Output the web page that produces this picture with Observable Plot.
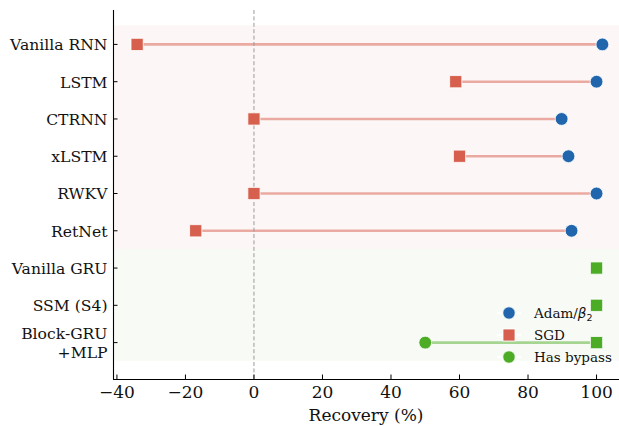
<!DOCTYPE html>
<html>
<head>
<meta charset="utf-8">
<script src="https://cdn.jsdelivr.net/npm/d3@7"></script>
<script src="https://cdn.jsdelivr.net/npm/@observablehq/plot@0.6"></script>
<style>
  html, body { margin: 0; padding: 0; background: #fff; }
  svg { display: block; }
</style>
</head>
<body>
<div id="chart"></div>
<script>
// ---- data ----
const models = ["Vanilla RNN", "LSTM", "CTRNN", "xLSTM", "RWKV", "RetNet", "Vanilla GRU", "SSM (S4)", "Block-GRU\n+MLP"];
const adamRecovery = [101.7, 100, 89.8, 91.8, 100, 92.7, 100, 100, 50];
const sgdRecovery = [-34.1, 58.9, 0, 60, 0, -17, 100, 100, 100];
const hasBypass = [false, false, false, false, false, false, true, true, true];
const xTicks = [-40, -20, 0, 20, 40, 60, 80, 100];
const groups = [
  {from: -0.5, to: 5.5, bypass: false},
  {from: 5.5, to: 8.5, bypass: true}
];
const legendItems = [
  {label: "Adam", symbol: "circle", color: "#2166ac"},
  {label: "SGD", symbol: "square", color: "#d6604d"},
  {label: "Has bypass", symbol: "circle", color: "#4dac26"}
];

const rows = models.map((m, i) => ({i, model: m, adam: adamRecovery[i], sgd: sgdRecovery[i], bypass: hasBypass[i]}));

const X0 = -41, X1 = 106.7, YT = -0.91, YB = 8.99;
const font = "DejaVu Serif";
const blue = "#2166ac", red = "#d6604d", green = "#4dac26";

const chart = Plot.plot({
  width: 619,
  height: 426,
  marginLeft: 113,
  marginRight: 0,
  marginTop: 10,
  marginBottom: 47,
  style: {fontFamily: font, background: "#fff"},
  x: {domain: [X0, X1]},
  y: {domain: [YB, YT]},
  marks: [
    Plot.rect(groups, {x1: X0, x2: X1, y1: "from", y2: "to", fill: d => d.bypass ? "#f8fbf5" : "#fcf7f6"}),
    Plot.link(rows, {x1: "sgd", x2: "adam", y1: "i", y2: "i", stroke: d => d.bypass ? "#a6d592" : "#eaaaa1", strokeWidth: 2.6}),
    Plot.ruleX([0], {stroke: "#9a9a9a", strokeWidth: 1, strokeDasharray: "4,2.4"}),
    Plot.dot(rows, {x: "adam", y: "i", r: 6.4, symbol: "circle", fill: d => d.bypass ? green : blue, stroke: "#fff", strokeWidth: 0.8}),
    Plot.dot(rows, {x: "sgd", y: "i", r: 6.9, symbol: "square", fill: d => d.bypass ? green : red, stroke: "#fff", strokeWidth: 0.8}),
    // spines
    Plot.ruleX([X0], {stroke: "#000", strokeWidth: 1.1}),
    Plot.ruleY([YB], {stroke: "#000", strokeWidth: 1.1}),
    // inward ticks
    Plot.ruleY(rows, {y: "i", x1: X0, x2: X0 + 4.5 * (X1 - X0) / 506, stroke: "#000", strokeWidth: 1}),
    Plot.ruleX(xTicks, {x: d => d, y1: YB, y2: YB - 4.5 * (YB - YT) / 369, stroke: "#000", strokeWidth: 1}),
    Plot.axisY(rows.map(d => d.i), {tickSize: 0, tickPadding: 6, tickFormat: i => models[i], fontSize: 15.6, lineHeight: 1.17, fill: "#111"}),
    Plot.axisX(xTicks, {tickSize: 0, tickPadding: 6, tickFormat: d => d < 0 ? "\u2212" + Math.abs(d) : String(d), fontSize: 17, fill: "#111", label: null})
  ]
});

const svg = d3.select(chart);
svg.append("text")
  .attr("x", 366).attr("y", 421)
  .attr("text-anchor", "middle")
  .attr("font-family", font).attr("font-size", 17).attr("fill", "#111")
  .text("Recovery (%)");

// legend
const lg = svg.append("g").attr("text-anchor", "start");
legendItems.forEach((d, k) => {
  const cy = 313 + k * 22;
  lg.append("line").attr("x1", 497).attr("x2", 521).attr("y1", cy).attr("y2", cy).attr("stroke", "#fff").attr("stroke-width", 2);
  if (d.symbol === "circle") {
    lg.append("circle").attr("cx", 509).attr("cy", cy).attr("r", 6.2).attr("fill", d.color).attr("stroke", "#fff").attr("stroke-width", 0.8);
  } else {
    lg.append("rect").attr("x", 503).attr("y", cy - 6).attr("width", 12).attr("height", 12).attr("fill", d.color).attr("stroke", "#fff").attr("stroke-width", 0.8);
  }
  const t = lg.append("text").attr("x", 534).attr("y", cy + 5).attr("text-anchor", "start").attr("font-family", font).attr("font-size", 13.5).attr("fill", "#111");
  t.append("tspan").text(d.label);
  if (d.label === "Adam") {
    t.append("tspan").text("/");
    t.append("tspan").attr("font-family", "DejaVu Sans").attr("font-style", "italic").text("\u03b2");
    t.append("tspan").attr("font-family", "DejaVu Sans").attr("font-size", 9.5).attr("dy", 3).text("2");
  }
});

document.getElementById("chart").appendChild(chart);
</script>
</body>
</html>
